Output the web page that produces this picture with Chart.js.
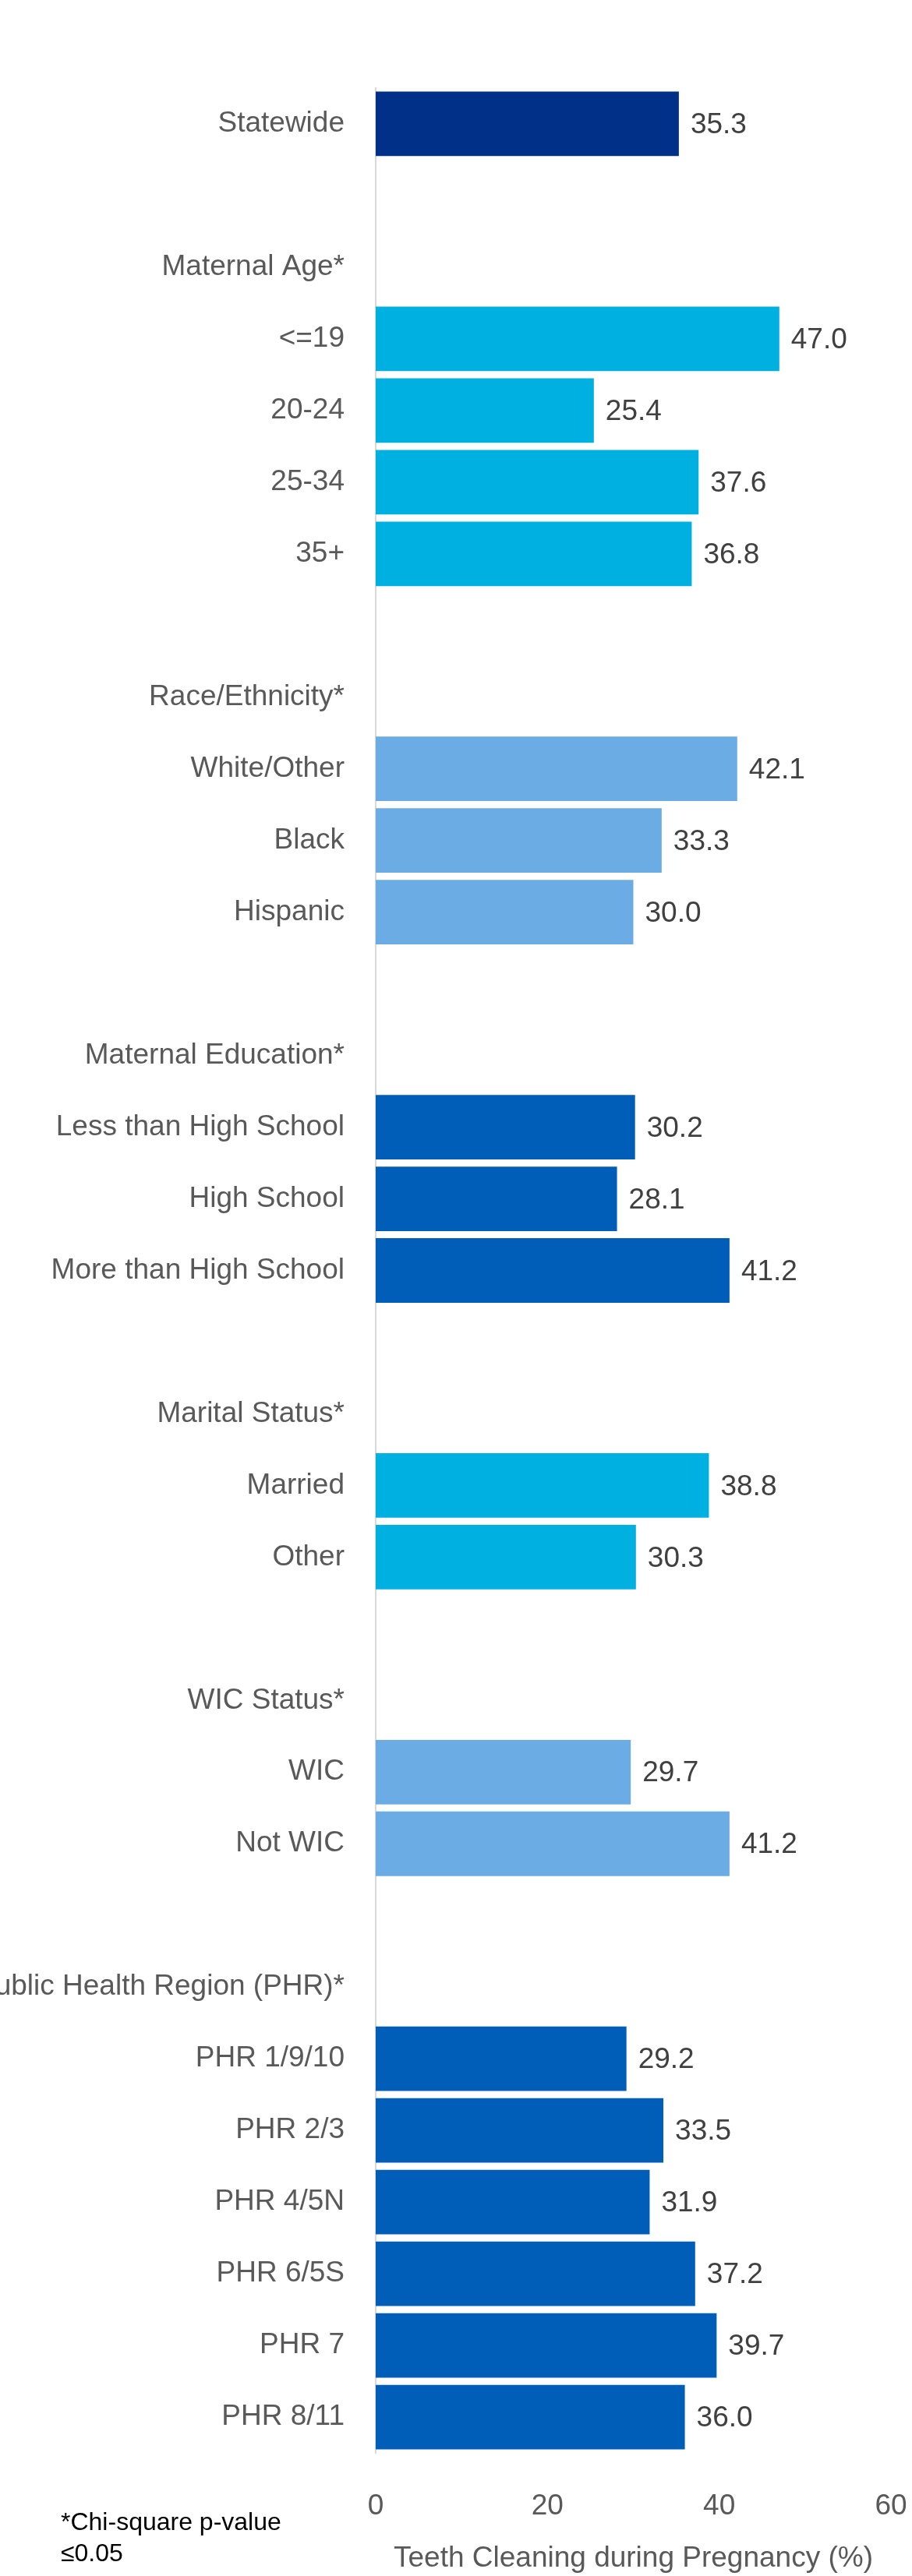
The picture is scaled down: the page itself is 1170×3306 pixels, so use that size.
<!DOCTYPE html>
<html>
<head>
<meta charset="utf-8">
<script src="https://cdn.jsdelivr.net/npm/chart.js@4.4.1/dist/chart.umd.min.js"></script>
<style>
  html, body { margin: 0; padding: 0; background: #fff; }
  #wrap { position: relative; width: 1170px; height: 3306px; }
  #note {
    position: absolute; left: 78px; top: 3216px;
    font-family: 'Liberation Sans', Arial, sans-serif;
    font-size: 32px; line-height: 40px; color: #000;
  }
</style>
</head>
<body>
<div id="wrap">
  <canvas id="teethChart"></canvas>
  <div id="note">*Chi-square p-value<br>≤0.05</div>
</div>
<script>
// values (%)
const statewideLabels = ['Statewide'];
const statewideValues = [35.3];

const ageLabels = ['<=19', '20-24', '25-34', '35+'];
const ageValues = [47.0, 25.4, 37.6, 36.8];

const raceLabels = ['White/Other', 'Black', 'Hispanic'];
const raceValues = [42.1, 33.3, 30.0];

const eduLabels = ['Less than High School', 'High School', 'More than High School'];
const eduValues = [30.2, 28.1, 41.2];

const maritalLabels = ['Married', 'Other'];
const maritalValues = [38.8, 30.3];

const wicLabels = ['WIC', 'Not WIC'];
const wicValues = [29.7, 41.2];

const phrLabels = ['PHR 1/9/10', 'PHR 2/3', 'PHR 4/5N', 'PHR 6/5S', 'PHR 7', 'PHR 8/11'];
const phrValues = [29.2, 33.5, 31.9, 37.2, 39.7, 36.0];

const xTicks = [0, 20, 40, 60];

// colours
const NAVY = '#003087';
const CYAN = '#00B0E0';
const LIGHT = '#6CACE4';
const BLUE = '#005EB8';

const sections = [
    { heading: null, labels: statewideLabels, values: statewideValues, color: NAVY },
    { heading: 'Maternal Age*', labels: ageLabels, values: ageValues, color: CYAN },
    { heading: 'Race/Ethnicity*', labels: raceLabels, values: raceValues, color: LIGHT },
    { heading: 'Maternal Education*', labels: eduLabels, values: eduValues, color: BLUE },
    { heading: 'Marital Status*', labels: maritalLabels, values: maritalValues, color: CYAN },
    { heading: 'WIC Status*', labels: wicLabels, values: wicValues, color: LIGHT },
    { heading: 'Public Health Region (PHR)*', labels: phrLabels, values: phrValues, color: BLUE }
];

// flatten sections into rows: blank row + heading row before each group
const labels = [], values = [], colors = [];
sections.forEach(s => {
    if (s.heading) {
        labels.push(''); values.push(null); colors.push(s.color);
        labels.push(s.heading); values.push(null); colors.push(s.color);
    }
    s.labels.forEach((l, i) => {
        labels.push(l); values.push(s.values[i]); colors.push(s.color);
    });
});

const FONT = "'Liberation Sans', Arial, sans-serif";
const SIZE = 37;
const TEXT = '#595959';

// draws the value next to each bar
const valueLabels = {
    id: 'valueLabels',
    afterDatasetsDraw(chart) {
        const ctx = chart.ctx;
        const meta = chart.getDatasetMeta(0);
        ctx.save();
        ctx.font = SIZE + 'px ' + FONT;
        ctx.fillStyle = '#404040';
        ctx.textAlign = 'left';
        ctx.textBaseline = 'middle';
        meta.data.forEach((bar, i) => {
            const v = values[i];
            if (v === null) return;
            ctx.fillText(v.toFixed(1), bar.x + 15, bar.y + 2);
        });
        ctx.restore();
    }
};

const ctx = document.getElementById('teethChart').getContext('2d');
new Chart(ctx, {
    type: 'bar',
    data: {
        labels: labels,
        datasets: [{
            data: values,
            backgroundColor: colors,
            barPercentage: 0.9,
            categoryPercentage: 1.0
        }]
    },
    options: {
        indexAxis: 'y',
        responsive: true,
        maintainAspectRatio: false,
        animation: false,
        layout: { padding: { top: 113, right: 27, bottom: 0, left: 0 } },
        plugins: {
            legend: { display: false },
            tooltip: { enabled: false }
        },
        scales: {
            x: {
                min: 0,
                max: 60,
                afterBuildTicks: axis => { axis.ticks = xTicks.map(v => ({ value: v })); },
                afterFit: axis => {
                    axis.height = 158;
                    axis.paddingLeft = 0;
                    axis.paddingRight = 0;
                },
                grid: { display: false, drawTicks: false },
                border: { display: false },
                ticks: {
                    padding: 47,
                    color: TEXT,
                    font: { family: FONT, size: SIZE }
                },
                title: {
                    display: true,
                    text: 'Teeth Cleaning during Pregnancy (%)',
                    color: TEXT,
                    font: { family: FONT, size: SIZE, lineHeight: 1.0 },
                    padding: { top: 0, bottom: 4 }
                }
            },
            y: {
                afterFit: axis => { axis.width = 482; },
                grid: { display: false, drawTicks: false },
                border: { display: true, color: '#D9D9D9', width: 2 },
                ticks: {
                    autoSkip: false,
                    padding: 40,
                    color: TEXT,
                    font: { family: FONT, size: SIZE }
                }
            }
        }
    },
    plugins: [valueLabels]
});
</script>
</body>
</html>
